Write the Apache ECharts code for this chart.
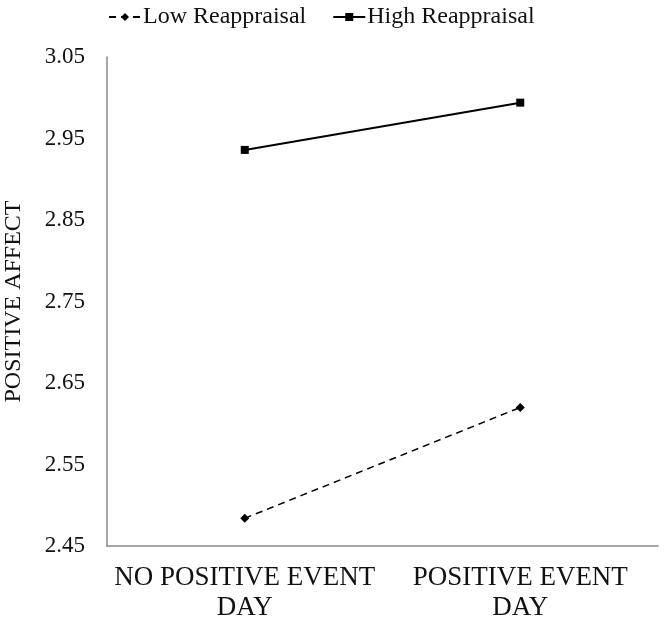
<!DOCTYPE html>
<html><head><meta charset="utf-8">
<script src="https://cdn.jsdelivr.net/npm/echarts@6/dist/echarts.min.js"></script>
<style>html,body{margin:0;padding:0;background:#fff}#c{width:666px;height:618px}</style>
</head><body><div id="c"></div>
<script>
const categories = ["NO POSITIVE EVENT\nDAY", "POSITIVE EVENT\nDAY"];
const lowReappraisal = [2.484, 2.62];
const highReappraisal = [2.936, 2.994];
const yTicks = {min: 2.45, max: 3.05, interval: 0.1};
const font = "'Liberation Serif', 'Times New Roman', serif";
const chart = echarts.init(document.getElementById('c'));
chart.setOption({
  animation: false,
  backgroundColor: '#fff',
  textStyle: {fontFamily: font},
  legend: {
    top: 0, left: 103,
    itemWidth: 32, itemHeight: 10, itemGap: 26,
    textStyle: {fontFamily: font, fontSize: 24, color: '#111', padding: [0, 0, 0, -3]},
    data: ['Low Reappraisal', 'High Reappraisal']
  },
  grid: {left: 107, right: 8, top: 57, bottom: 72, outerBoundsMode: 'none', containLabel: false},
  xAxis: {
    type: 'category', data: categories, boundaryGap: true,
    axisLine: {lineStyle: {color: '#888', width: 1.5}},
    axisTick: {show: false},
    axisLabel: {interval: 0, hideOverlap: false, fontFamily: font, fontSize: 27, color: '#111', margin: 17, lineHeight: 30, align: 'center'}
  },
  yAxis: {
    type: 'value', min: yTicks.min, max: yTicks.max, interval: yTicks.interval,
    name: 'POSITIVE AFFECT', nameLocation: 'middle', nameRotate: 90, nameGap: 81,
    nameTextStyle: {fontFamily: font, fontSize: 24, color: '#111'},
    axisLine: {show: true, lineStyle: {color: '#888', width: 1.5}},
    axisTick: {show: false},
    splitLine: {show: false},
    axisLabel: {fontFamily: font, fontSize: 23, color: '#111', margin: 22,
      formatter: v => v.toFixed(2)}
  },
  series: [
    {name: 'Low Reappraisal', type: 'line', data: lowReappraisal,
     symbol: 'diamond', symbolSize: 9,
     lineStyle: {color: '#000', width: 1.5, type: [7, 5]},
     itemStyle: {color: '#000'}},
    {name: 'High Reappraisal', type: 'line', data: highReappraisal,
     symbol: 'rect', symbolSize: 8,
     lineStyle: {color: '#000', width: 2},
     itemStyle: {color: '#000'}}
  ]
});
</script></body></html>
